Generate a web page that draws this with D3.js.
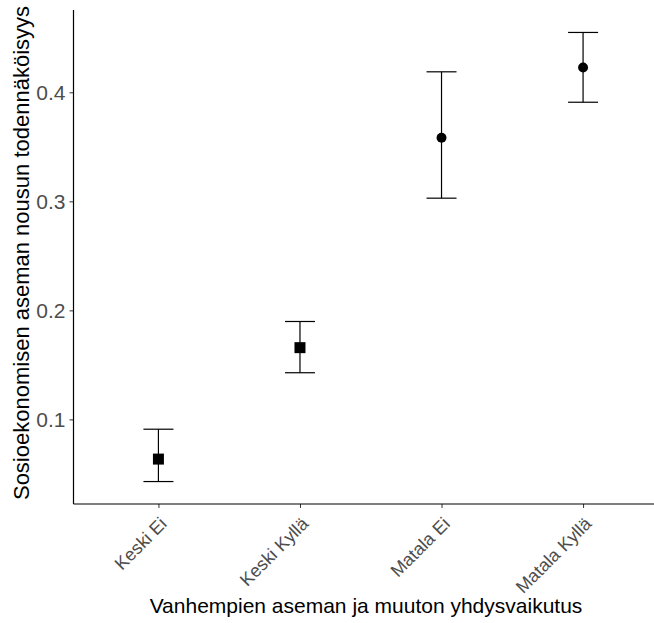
<!DOCTYPE html>
<html><head><meta charset="utf-8">
<script src="https://cdn.jsdelivr.net/npm/d3@7"></script>
<style>body{margin:0;background:#fff;overflow:hidden}svg{display:block;font-family:"Liberation Sans",Arial,sans-serif}</style>
</head><body><svg id="c" width="654" height="623"></svg>
<script>
const categories = ["Keski Ei", "Keski Kyllä", "Matala Ei", "Matala Kyllä"];
const estimates = [0.0636, 0.1658, 0.3583, 0.4227];
const lower = [0.0430, 0.1428, 0.3029, 0.3909];
const upper = [0.0910, 0.1898, 0.4188, 0.4549];
const shapes = ["square", "square", "circle", "circle"];
const yTicks = [0.1, 0.2, 0.3, 0.4];
const xTitle = "Vanhempien aseman ja muuton yhdysvaikutus";
const yTitle = "Sosioekonomisen aseman nousun todennäköisyys";

const svg = d3.select("#c");
const L = 73.5, R = 668, T = 10, B = 504;
const x = d3.scalePoint().domain(categories).range([L, R]).padding(0.6);
const lo = d3.min(lower), hi = d3.max(upper), pad = (hi - lo) * 0.05;
const y = d3.scaleLinear().domain([lo - pad, hi + pad]).range([B, T]);

const data = categories.map((c, i) => ({c, e: estimates[i], l: lower[i], u: upper[i], s: shapes[i]}));

// axes
const yAxis = svg.append("g").attr("transform", `translate(${L},0)`)
  .call(d3.axisLeft(y).tickValues(yTicks).tickSize(4).tickPadding(4).tickFormat(d3.format(".1f")));
const xAxis = svg.append("g").attr("transform", `translate(0,${B})`)
  .call(d3.axisBottom(x).tickSize(4).tickPadding(4));
[yAxis, xAxis].forEach(a => {
  a.select(".domain").remove();
  a.selectAll(".tick line").attr("stroke", "#333").attr("stroke-width", 1);
  a.selectAll(".tick text").attr("fill", "#4d4d4d");
});
yAxis.selectAll(".tick text").style("font-size", "21px");
xAxis.selectAll(".tick text").style("font-size", "18px")
  .attr("text-anchor", "end").attr("dy", null).attr("y", 0)
  .attr("transform", "translate(9,21) rotate(-45)");
svg.append("line").attr("x1", L).attr("x2", L).attr("y1", T).attr("y2", B).attr("stroke", "#000").attr("stroke-width", 1.2);
svg.append("line").attr("x1", L).attr("x2", R).attr("y1", B).attr("y2", B).attr("stroke", "#000").attr("stroke-width", 1.2);

// error bars
const hw = 15;
const g = svg.append("g");
g.selectAll("line.v").data(data).join("line").attr("class", "v")
  .attr("x1", d => x(d.c)).attr("x2", d => x(d.c)).attr("y1", d => y(d.l)).attr("y2", d => y(d.u))
  .attr("stroke", "#000").attr("stroke-width", 1.2);
g.selectAll("line.top").data(data).join("line").attr("class", "top")
  .attr("x1", d => x(d.c) - hw).attr("x2", d => x(d.c) + hw).attr("y1", d => y(d.u)).attr("y2", d => y(d.u))
  .attr("stroke", "#000").attr("stroke-width", 1.2);
g.selectAll("line.bot").data(data).join("line").attr("class", "bot")
  .attr("x1", d => x(d.c) - hw).attr("x2", d => x(d.c) + hw).attr("y1", d => y(d.l)).attr("y2", d => y(d.l))
  .attr("stroke", "#000").attr("stroke-width", 1.2);

// points
g.selectAll("path.pt").data(data).join("path").attr("class", "pt")
  .attr("transform", d => `translate(${x(d.c)},${y(d.e)})`)
  .attr("d", d => d3.symbol().type(d.s === "square" ? d3.symbolSquare : d3.symbolCircle).size(d.s === "square" ? 121 : 78)())
  .attr("fill", "#000");

// titles
svg.append("text").attr("x", 366).attr("y", 613).attr("text-anchor", "middle")
  .style("font-size", "21px").attr("fill", "#000").text(xTitle);
svg.append("text").attr("transform", `translate(29,${(T + B) / 2 - 4}) rotate(-90)`).attr("text-anchor", "middle")
  .style("font-size", "22px").attr("fill", "#000").text(yTitle);
</script></body></html>
